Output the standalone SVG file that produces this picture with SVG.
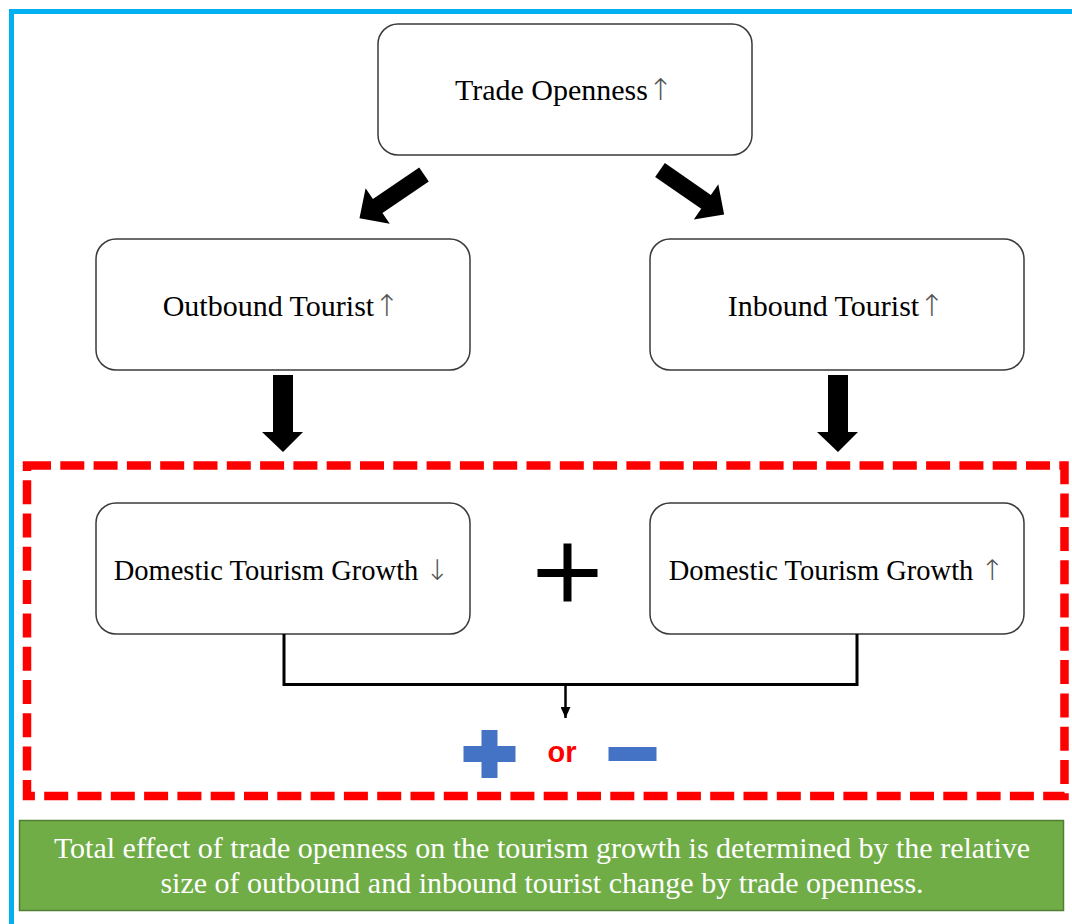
<svg xmlns="http://www.w3.org/2000/svg" width="1072" height="924" viewBox="0 0 1072 924">
  <defs>
    <style>
      .box { fill: #ffffff; stroke: #3a3a3a; stroke-width: 1.5; }
      .lbl { font-family: "Liberation Serif", "Times New Roman", serif; fill: #000000; text-anchor: middle; }
      .big { font-size: 30px; }
      .mid { font-size: 28.5px; }
      .arr { font-family: "DejaVu Sans", sans-serif; font-weight: 200; fill: #555555; }
      .block { fill: #000000; }
      .wire { fill: none; stroke: #000000; stroke-width: 3; }
      .note { font-size: 30px; fill: #ffffff; }
    </style>
    <!-- block arrow pointing along +x, tail centred at the origin -->
    <path id="fatArrow" d="M0,-8.5 L56,-8.5 L56,-21.5 L78,0 L56,21.5 L56,8.5 L0,8.5 Z"/>
    <marker id="tip" markerWidth="11" markerHeight="10" refX="11" refY="5" orient="auto" markerUnits="userSpaceOnUse" viewBox="0 0 11 10">
      <path d="M0,0 L11,5 L0,10 Z" fill="#000000"/>
    </marker>
  </defs>

  <rect width="1072" height="924" fill="#ffffff"/>

  <!-- outer frame (top and left edges) -->
  <path d="M11.5,924 L11.5,11.5 L1072,11.5" fill="none" stroke="#00b0f0" stroke-width="5"/>

  <g id="trade-openness">
    <rect class="box" x="378" y="24" width="374" height="131" rx="20"/>
    <text class="lbl big" x="564" y="100">Trade Openness<tspan class="arr">↑</tspan></text>
  </g>

  <g id="outbound-tourist">
    <rect class="box" x="96" y="239" width="374" height="131" rx="20"/>
    <text class="lbl big" x="281" y="316">Outbound Tourist<tspan class="arr">↑</tspan></text>
  </g>

  <g id="inbound-tourist">
    <rect class="box" x="650" y="239" width="374" height="131" rx="20"/>
    <text class="lbl big" x="836" y="316">Inbound Tourist<tspan class="arr">↑</tspan></text>
  </g>

  <!-- dashed frame around the combined domestic effect -->
  <rect id="combined-effect" x="27" y="465.5" width="1037.5" height="330.5" fill="none" stroke="#ff0000" stroke-width="8.5" stroke-dasharray="24 9.3"/>

  <g id="domestic-down">
    <rect class="box" x="96" y="503" width="374" height="131" rx="20"/>
    <text class="lbl mid" x="281.5" y="580">Domestic Tourism Growth <tspan class="arr">↓</tspan></text>
  </g>

  <g id="domestic-up">
    <rect class="box" x="650" y="503" width="374" height="131" rx="20"/>
    <text class="lbl mid" x="836.5" y="580">Domestic Tourism Growth <tspan class="arr">↑</tspan></text>
  </g>

  <g id="sum-sign">
    <rect x="563.5" y="543.5" width="8" height="58" fill="#000000"/>
    <rect x="537.5" y="569" width="60" height="8" fill="#000000"/>
  </g>

  <g id="result">
    <rect x="481.5" y="730" width="16" height="48" fill="#4472c4"/>
    <rect x="463.5" y="746" width="52" height="16" fill="#4472c4"/>
    <text x="562" y="761.5" font-family="Liberation Sans, Arial, sans-serif" font-weight="bold" font-size="29" fill="#ff0000" text-anchor="middle">or</text>
    <rect x="608.5" y="747" width="48" height="14" fill="#4472c4"/>
  </g>

  <g id="connectors">
    <use href="#fatArrow" class="block" transform="translate(424,174.5) rotate(145.8)"/>
    <use href="#fatArrow" class="block" transform="translate(660,170) rotate(34.7)"/>
    <path class="block" d="M273,375 L293,375 L293,432 L303,432 L283,452 L262,432 L273,432 Z"/>
    <path class="block" d="M828,375 L848,375 L848,432 L858,432 L838,452 L817,432 L828,432 Z"/>
    <path class="wire" d="M284,634 L284,684.5 L857,684.5 L857,634"/>
    <line x1="565.5" y1="684.5" x2="565.5" y2="718" stroke="#000000" stroke-width="2.5" marker-end="url(#tip)"/>
  </g>

  <g id="summary">
    <rect x="19.5" y="820.5" width="1044" height="90" fill="#70ad47" stroke="#507e32" stroke-width="1.5"/>
    <text class="lbl note" x="542" y="858">Total effect of trade openness on the tourism growth is determined by the relative</text>
    <text class="lbl note" x="542" y="893">size of outbound and inbound tourist change by trade openness.</text>
  </g>
</svg>
